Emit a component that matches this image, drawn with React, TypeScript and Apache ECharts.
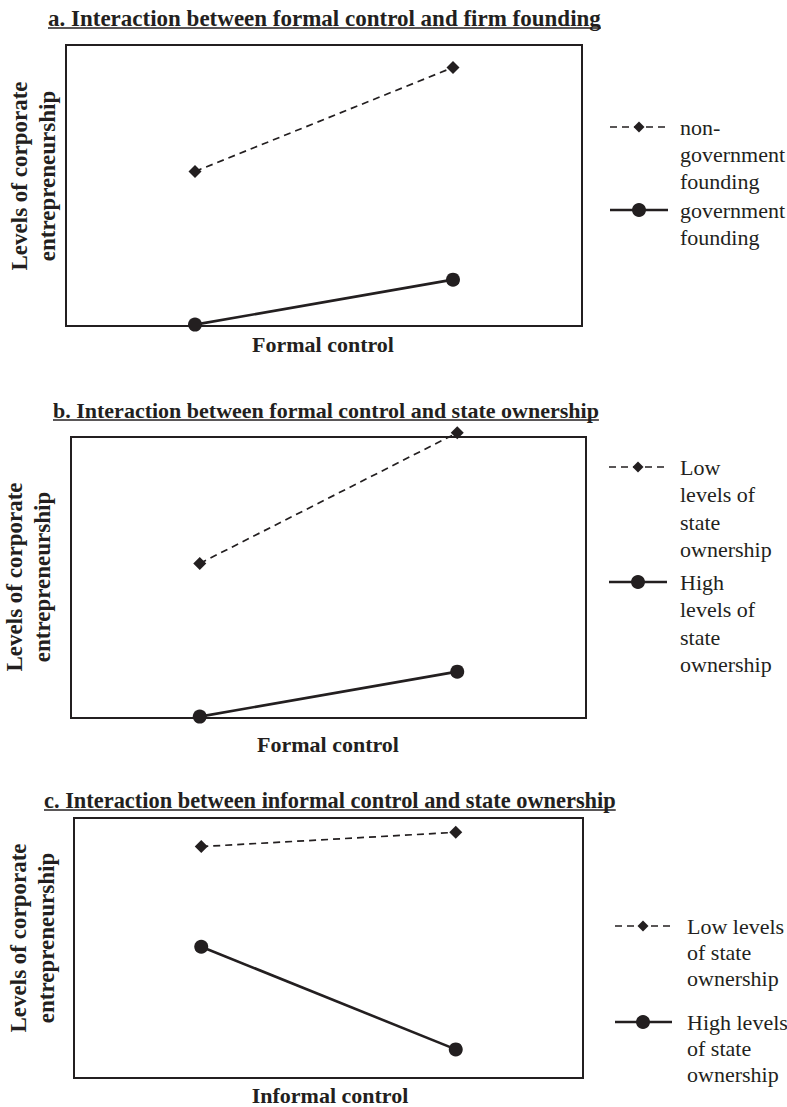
import React, { useEffect, useRef } from "react";
import * as echarts from "echarts";

// ---- data ----
const categories = ["Low", "High"];
// Panel a
const aNonGov = [0.55, 0.92];
const aGov = [0.005, 0.165];
// Panel b
const bLow = [0.55, 1.015];
const bHigh = [0.005, 0.165];
// Panel c
const cLow = [0.89, 0.945];
const cHigh = [0.505, 0.11];

const titles = [
  "a. Interaction between formal control and firm founding",
  "b. Interaction between formal control and state ownership",
  "c. Interaction between informal control and state ownership",
];
const xLabels = ["Formal control", "Formal control", "Informal control"];
const yLabel = "Levels of corporate\nentrepreneurship";
const legendDashed = [
  ["non-", "government", "founding"],
  ["Low", "levels of", "state", "ownership"],
  ["Low levels", "of state", "ownership"],
];
const legendSolid = [
  ["government", "founding"],
  ["High", "levels of", "state", "ownership"],
  ["High levels", "of state", "ownership"],
];

const INK = "#231f20";
const FAMILY = "Liberation Serif";

const layout = [
  {
    grid: { left: 66, top: 45, width: 516, height: 281 },
    title: { x: 48, y: 18, size: 23 },
    yLab: { x: 33, y: 176 },
    xLab: { x: 323, y: 344 },
    leg: { x1: 610, x2: 668, mx: 639, tx: 680, dashY: 127, solidY: 210, step: 27 },
  },
  {
    grid: { left: 71, top: 437, width: 515, height: 281 },
    title: { x: 53, y: 410, size: 22 },
    yLab: { x: 28, y: 577 },
    xLab: { x: 328, y: 744 },
    leg: { x1: 609, x2: 667, mx: 638, tx: 680, dashY: 467, solidY: 582, step: 27.5 },
  },
  {
    grid: { left: 74, top: 818, width: 509, height: 260 },
    title: { x: 44, y: 800, size: 22.4 },
    yLab: { x: 32, y: 938 },
    xLab: { x: 330, y: 1095 },
    leg: { x1: 615, x2: 672, mx: 643, tx: 687, dashY: 926, solidY: 1022, step: 26 },
  },
];

function measure(text: string, font: string): number {
  const c = document.createElement("canvas").getContext("2d");
  if (!c) return text.length * 10;
  c.font = font;
  return c.measureText(text).width;
}

function txt(x: number, y: number, text: string, bold: boolean, align: string, size = 22, extra: any = {}) {
  return {
    type: "text",
    x,
    y,
    ...extra,
    style: {
      text,
      fontFamily: FAMILY,
      fontSize: size,
      fontWeight: bold ? "bold" : "normal",
      fill: INK,
      align,
      verticalAlign: "middle",
    },
  };
}

export default function App() {
  const ref = useRef<HTMLDivElement>(null);
  useEffect(() => {
    if (!ref.current) return;
    const chart = echarts.init(ref.current, null, { renderer: "svg" });
    const seriesData = [
      [aNonGov, aGov],
      [bLow, bHigh],
      [cLow, cHigh],
    ];
    const series: any[] = [];
    seriesData.forEach((pair, i) => {
      series.push({
        type: "line",
        xAxisIndex: i,
        yAxisIndex: i,
        data: pair[0],
        symbol: "diamond",
        symbolSize: 13,
        clip: false,
        lineStyle: { color: INK, width: 1.7, type: [7, 5] },
        itemStyle: { color: INK },
        z: 5,
      });
      series.push({
        type: "line",
        xAxisIndex: i,
        yAxisIndex: i,
        data: pair[1],
        symbol: "circle",
        symbolSize: 14,
        clip: false,
        lineStyle: { color: INK, width: 2.6 },
        itemStyle: { color: INK },
        z: 5,
      });
    });

    const graphic: any[] = [];
    layout.forEach((L, i) => {
      const tw = measure(titles[i], `bold ${L.title.size}px "${FAMILY}"`);
      graphic.push(txt(L.title.x, L.title.y, titles[i], true, "left", L.title.size));
      graphic.push({
        type: "line",
        shape: { x1: L.title.x, y1: L.title.y + 10, x2: L.title.x + tw, y2: L.title.y + 10 },
        style: { stroke: INK, lineWidth: 1.5 },
      });
      const yl: any = txt(L.yLab.x, L.yLab.y, yLabel, true, "center", 23, { rotation: Math.PI / 2 });
      yl.style.lineHeight = 28;
      graphic.push(yl);
      graphic.push(txt(L.xLab.x, L.xLab.y, xLabels[i], true, "center"));
      const g = L.leg;
      graphic.push({
        type: "line",
        shape: { x1: g.x1, y1: g.dashY, x2: g.x2, y2: g.dashY },
        style: { stroke: INK, lineWidth: 1.7, lineDash: [7, 5] },
      });
      graphic.push({
        type: "polygon",
        shape: {
          points: [
            [g.mx, g.dashY - 5.5],
            [g.mx + 5.5, g.dashY],
            [g.mx, g.dashY + 5.5],
            [g.mx - 5.5, g.dashY],
          ],
        },
        style: { fill: INK },
      });
      graphic.push({
        type: "line",
        shape: { x1: g.x1, y1: g.solidY, x2: g.x2, y2: g.solidY },
        style: { stroke: INK, lineWidth: 2.6 },
      });
      graphic.push({
        type: "circle",
        shape: { cx: g.mx, cy: g.solidY, r: 7 },
        style: { fill: INK },
      });
      legendDashed[i].forEach((t, k) => {
        graphic.push(txt(g.tx, g.dashY + k * g.step, t, false, "left"));
      });
      legendSolid[i].forEach((t, k) => {
        graphic.push(txt(g.tx, g.solidY + k * g.step, t, false, "left"));
      });
    });

    chart.setOption({
      animation: false,
      backgroundColor: "#ffffff",
      grid: layout.map((L) => ({
        ...L.grid,
        show: true,
        borderColor: INK,
        borderWidth: 2,
        backgroundColor: "transparent",
      })),
      xAxis: layout.map((_, i) => ({
        type: "category",
        data: categories,
        gridIndex: i,
        boundaryGap: true,
        show: false,
      })),
      yAxis: layout.map((_, i) => ({
        type: "value",
        min: 0,
        max: 1,
        gridIndex: i,
        show: false,
        splitLine: { show: false },
      })),
      series,
      graphic,
    });
    return () => chart.dispose();
  }, []);
  return (
    <div
      ref={ref}
      style={{ position: "absolute", left: 0, top: 0, width: 787, height: 1107 }}
    />
  );
}
